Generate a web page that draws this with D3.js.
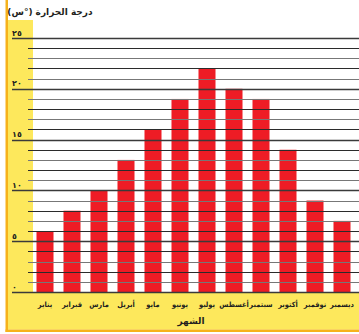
<!DOCTYPE html>
<html>
<head>
<meta charset="utf-8">
<script src="https://cdn.jsdelivr.net/npm/d3@7"></script>
<style>
  html, body { margin: 0; padding: 0; background: #ffffff; }
  svg { display: block; }
  text { font-family: "DejaVu Sans", sans-serif; font-weight: bold; fill: #231f20; }
  .month { font-family: "DejaVu Sans Condensed", "DejaVu Sans", sans-serif; }
</style>
</head>
<body>
<svg id="chart" width="359" height="334"></svg>
<script>
// Monthly average temperature (°C)
const months = ["يناير", "فبراير", "مارس", "أبريل", "مايو", "يونيو",
                "يوليو", "أغسطس", "سبتمبر", "أكتوبر", "نوفمبر", "ديسمبر"];
const temperatures = [6, 8, 10, 13, 16, 19, 22, 20, 19, 14, 9, 7];
const tickValues = [0, 5, 10, 15, 20, 25];
const tickLabels = ["٠", "٥", "١٠", "١٥", "٢٠", "٢٥"];
const yTitle = "درجة الحرارة (°س)";
const xTitle = "الشهر";

const svg = d3.select("#chart");
const W = 359, H = 334;
const yellow = "#fde85c", orange = "#f6b21b", red = "#ee1c25";

const x = d3.scaleBand()
  .domain(months)
  .range([31.5, 355.5])
  .paddingInner(0.37)
  .paddingOuter(0.185);

const y = d3.scaleLinear().domain([0, 25]).range([292, 38]);

// Background panels
svg.append("rect").attr("x", 8).attr("y", 20).attr("width", 25).attr("height", 280).attr("fill", yellow);
svg.append("rect").attr("x", 8).attr("y", y(0)).attr("width", W - 8).attr("height", 329.5 - y(0)).attr("fill", yellow);
svg.append("rect").attr("x", 33).attr("y", 20).attr("width", W - 33).attr("height", y(0) - 20).attr("fill", "#ffffff");

// Orange frame on left and bottom
svg.append("rect").attr("x", 5.5).attr("y", 0).attr("width", 2.5).attr("height", 332).attr("fill", orange);
svg.append("rect").attr("x", 5.5).attr("y", 329.5).attr("width", W - 5.5).attr("height", 2.5).attr("fill", orange);

// Bars
svg.append("g").selectAll("rect")
  .data(months)
  .join("rect")
  .attr("x", d => x(d))
  .attr("width", x.bandwidth())
  .attr("y", (d, i) => y(temperatures[i]))
  .attr("height", (d, i) => y(0) - y(temperatures[i]))
  .attr("fill", red);

// Grid lines at every degree, drawn over the bars
const unitTicks = y.ticks(25);
svg.append("g").selectAll("line")
  .data(unitTicks)
  .join("line")
  .attr("x1", d => d % 5 === 0 ? 12 : 28)
  .attr("x2", W)
  .attr("y1", d => Math.round(y(d)) + 0.5)
  .attr("y2", d => Math.round(y(d)) + 0.5)
  .attr("stroke", (d, i) => d % 5 === 0 ? "#3a3a3a" : (i % 2 ? "#777777" : "#2b2b2b"))
  .attr("stroke-width", d => d % 5 === 0 ? 1.3 : 1.1);

// Y tick labels
svg.append("g").selectAll("text")
  .data(tickValues)
  .join("text")
  .attr("x", 12)
  .attr("y", d => y(d) - 2.5)
  .attr("font-size", 8)
  .text((d, i) => tickLabels[i]);

// Month labels
svg.append("g").selectAll("text")
  .data(months)
  .join("text")
  .attr("class", "month")
  .attr("x", d => x(d) + x.bandwidth() / 2)
  .attr("y", 307)
  .attr("text-anchor", "middle")
  .attr("font-size", 7.4)
  .text(d => d);

// Axis titles
svg.append("text")
  .attr("x", 50).attr("y", 15)
  .attr("text-anchor", "middle")
  .attr("direction", "rtl")
  .attr("font-size", 9)
  .text(yTitle);

svg.append("text")
  .attr("x", 191).attr("y", 324)
  .attr("text-anchor", "middle")
  .attr("font-size", 9)
  .text(xTitle);
</script>
</body>
</html>
